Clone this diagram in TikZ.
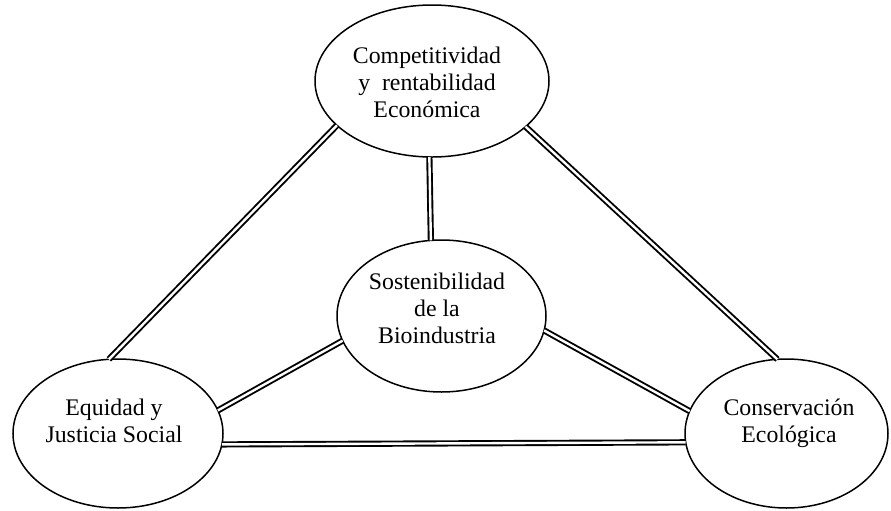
\documentclass[tikz,border=0pt]{standalone}
\usepackage{fontspec}
\setmainfont{Liberation Serif}
\usetikzlibrary{shapes.geometric}
\tikzset{
  oval/.style={ellipse, draw, line width=0.75pt, inner sep=0pt, outer sep=0pt},
  lbl/.style={align=center, inner sep=0pt, font=\fontsize{11.9}{13.5}\selectfont},
  link/.style={draw, line width=0.95pt, double=white, double distance=1.2pt}
}
\begin{document}
\begin{tikzpicture}[x=0.5pt,y=-0.5pt]
\useasboundingbox (0,0) rectangle (891,510);
\node[oval, minimum width=117pt, minimum height=76pt] (top) at (432,81) {};
\node[oval, minimum width=104.5pt, minimum height=76pt] (mid) at (441.5,316) {};
\node[oval, minimum width=105pt, minimum height=74.5pt] (bl) at (118,433.5) {};
\node[oval, minimum width=101.5pt, minimum height=74.5pt] (br) at (786.5,433.5) {};

\node[lbl] (ttop) at (427,82) {Competitividad\\y\ \ rentabilidad\\Económica};
\node[lbl] (tmid) at (437,308) {Sostenibilidad\\de la\\Bioindustria};
\node[lbl] (tbl) at (114,420.5) {Equidad y\\Justicia Social};
\node[lbl] (tbr) at (789,423) {Conservación\\Ecológica};

\path[link] (top.205.3) -- (bl.97.6);
\path[link] (top.334.7) -- (br.97.2);
\path[link] (top.268.5) -- (mid.98.6);
\path[link] (mid.194) -- (bl.13.6);
\path[link] (mid.352.8) -- (br.167);
\path[link] (bl.354.8) -- (br.185.4);
\end{tikzpicture}
\end{document}
